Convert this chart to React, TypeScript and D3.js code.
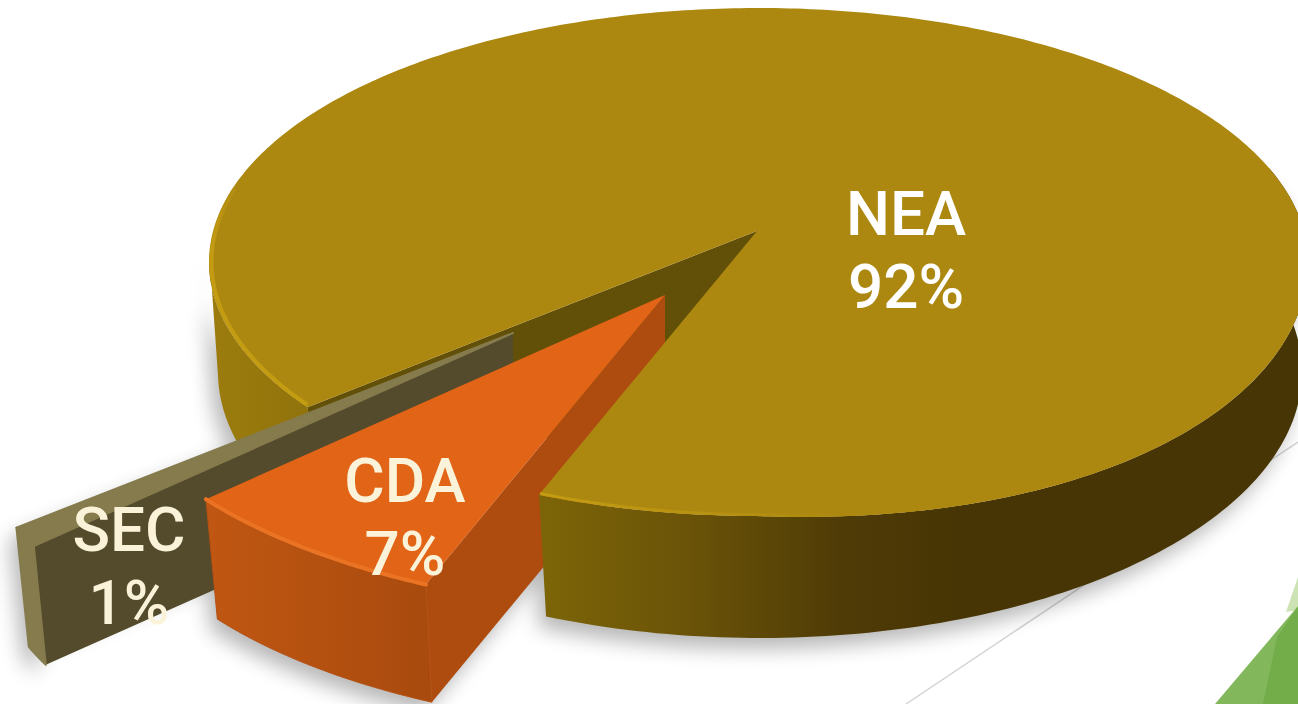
import React from "react";
import * as d3 from "d3";

const categories = ["NEA", "CDA", "SEC"];
const shares = [92, 7, 1];
const labelLines = [["NEA", "92%"], ["CDA", "7%"], ["SEC", "1%"]];

const WIDTH = 1298;
const HEIGHT = 704;
const DEG = Math.PI / 180;

type Ellipse = { cx: number; cy: number; rx: number; ry: number; warp: number };
type Pt = [number, number];

// Rims of the disc. The top rim sags a little towards the lower right of the view.
const topRim: Ellipse = { cx: 758.5, cy: 262, rx: 549.5, ry: 254, warp: 21 };
const lowRim: Ellipse = { cx: 760, cy: 372, rx: 542, ry: 266, warp: 0 };
const apexTop: Pt = [757, 231];
const apexLow: Pt = [751, 353];

// Casts a ray from the apex in pie-angle direction and returns where it meets the rim.
function rimPoint(e: Ellipse, apex: Pt, angle: number): Pt {
  const dx = Math.sin(angle) * e.rx;
  const dy = -Math.cos(angle) * e.ry;
  const ox = (apex[0] - e.cx) / e.rx;
  const oy = (apex[1] - e.cy) / e.ry;
  const ux = dx / e.rx;
  const uy = dy / e.ry;
  const a = ux * ux + uy * uy;
  const b = 2 * (ox * ux + oy * uy);
  const c = ox * ox + oy * oy - 1;
  const t = (-b + Math.sqrt(b * b - 4 * a * c)) / (2 * a);
  const x = apex[0] + t * dx;
  const y = apex[1] + t * dy;
  const u = (x - e.cx) / e.rx;
  const v = (y - e.cy) / e.ry;
  return [x, y + e.warp * Math.max(0, u) * Math.max(0, v)];
}

const line = d3.line<Pt>().curve(d3.curveLinear);
const sweep = (a: number, b: number, n = 120) =>
  d3.range(n + 1).map((i) => a + ((b - a) * i) / n);

const slices = d3
  .pie<number>()
  .sort(null)
  .startAngle(229.7 * DEG)
  .endAngle((229.7 + 360) * DEG)(shares);

const nea = slices[0];
const cda = slices[1];
const sec = slices[2];

// Disc surfaces
const neaTop = line([
  apexTop,
  ...sweep(nea.startAngle, nea.endAngle, 400).map((a) => rimPoint(topRim, apexTop, a)),
])! + "Z";

function wallPath(a: number, b: number) {
  const upper = sweep(a, b).map((t) => rimPoint(topRim, apexTop, t));
  const lower = sweep(b, a).map((t) => rimPoint(lowRim, apexLow, t));
  return line([...upper, ...lower])! + "Z";
}
const wallLeft = wallPath(nea.startAngle, 265 * DEG);
const wallFront = wallPath(nea.endAngle - 2 * Math.PI, 75 * DEG);
const cutWall = line([
  apexTop,
  rimPoint(topRim, apexTop, nea.startAngle),
  rimPoint(lowRim, apexLow, nea.startAngle),
  apexLow,
])! + "Z";

// Highlights run just inside the rim, pulled towards the apex.
function insetRim(a: number, b: number, inset: number) {
  return line(
    sweep(a, b).map((t) => {
      const p = rimPoint(topRim, apexTop, t);
      return [
        apexTop[0] + (p[0] - apexTop[0]) * (1 - inset),
        apexTop[1] + (p[1] - apexTop[1]) * (1 - inset),
      ] as Pt;
    }),
  )!;
}
const bevelLeft = insetRim(nea.startAngle + 0.4 * DEG, 280 * DEG, 0.0045);
const bevelFront = insetRim(nea.endAngle - 2 * Math.PI, 130 * DEG, 0.005);

// Pulled-out wedges: the tip moves, and the wedge grows as it nears the viewer.
function wedge(
  startAngle: number,
  endAngle: number,
  tip: Pt,
  grow: [number, number],
  depth: number,
) {
  const steps = 40;
  const arc = d3.range(steps + 1).map((i) => {
    const f = i / steps;
    const p = rimPoint(topRim, apexTop, startAngle + (endAngle - startAngle) * f);
    const g = grow[0] + (grow[1] - grow[0]) * f;
    return [tip[0] + (p[0] - apexTop[0]) * g, tip[1] + (p[1] - apexTop[1]) * g] as Pt;
  });
  const low = (p: Pt): Pt => [
    tip[0] + (p[0] - tip[0]) * 0.975,
    tip[1] + (p[1] - tip[1]) * 0.975 + depth,
  ];
  const tipLow = low(tip);
  return {
    face: line([tip, ...arc])! + "Z",
    rim: line(arc)!,
    outer: line([...arc, ...arc.map(low).reverse()])! + "Z",
    sideNear: line([tip, arc[0], low(arc[0]), tipLow])! + "Z",
    sideFar: line([tip, arc[steps], low(arc[steps]), tipLow])! + "Z",
  };
}
const cdaShape = wedge(cda.startAngle, cda.endAngle, [665, 295], [1.097, 1.075], 125);
const secShape = wedge(sec.startAngle, sec.endAngle, [513, 333], [1.122, 1.105], 124);

const labelAnchors: { x: number; y: number; fill: string }[] = [
  { x: 906, y: 235, fill: "#ffffff" },
  { x: 405, y: 502, fill: "#fbf3d9" },
  { x: 129, y: 551, fill: "#fbf3d9" },
];
const labelGap = 73;

export default function App() {
  return (
    <svg
      width={WIDTH}
      height={HEIGHT}
      viewBox={`0 0 ${WIDTH} ${HEIGHT}`}
      style={{ position: "fixed", left: 0, top: 0, background: "#fff" }}
    >
      <defs>
        <filter id="soft" x="-10%" y="-10%" width="120%" height="130%">
          <feGaussianBlur stdDeviation="10" />
        </filter>
        <linearGradient id="wallFrontFill" gradientUnits="userSpaceOnUse" x1="545" x2="960" y1="0" y2="0">
          <stop offset="0" stopColor="#7c6408" />
          <stop offset="0.35" stopColor="#6a5308" />
          <stop offset="0.72" stopColor="#4f3b06" />
          <stop offset="1" stopColor="#473505" />
        </linearGradient>
        <linearGradient id="wallLeftFill" gradientUnits="userSpaceOnUse" x1="210" x2="320" y1="0" y2="0">
          <stop offset="0" stopColor="#9c7c0d" />
          <stop offset="1" stopColor="#8f720c" />
        </linearGradient>
        <linearGradient id="cdaFront" gradientUnits="userSpaceOnUse" x1="205" x2="435" y1="0" y2="0">
          <stop offset="0" stopColor="#c05712" />
          <stop offset="1" stopColor="#a84a0e" />
        </linearGradient>
        <linearGradient id="bevelFrontStroke" gradientUnits="userSpaceOnUse" x1="540" x2="850" y1="0" y2="0">
          <stop offset="0" stopColor="#c49c12" />
          <stop offset="1" stopColor="#ac8810" />
        </linearGradient>
        <linearGradient id="bevelLeftStroke" gradientUnits="userSpaceOnUse" x1="0" x2="0" y1="170" y2="250">
          <stop offset="0" stopColor="#ac8810" />
          <stop offset="1" stopColor="#c49c12" />
        </linearGradient>
      </defs>

      {/* backdrop decoration */}
      <line x1={1298} y1={442} x2={906} y2={704} stroke="#d4d4d4" strokeWidth={1.5} />
      <polygon points="1298,577 1298,610 1286,612" fill="#cde3b4" />
      <polygon points="1215,704 1298,606 1298,704" fill="#82b75c" />
      <polygon points="1263,704 1277,637 1298,607 1298,704" fill="#72ad49" />

      {/* cast shadow */}
      <g filter="url(#soft)" fill="#000" opacity={0.28} transform="translate(-7,11)">
        <path d={wallLeft} />
        <path d={wallFront} />
        <path d={cdaShape.outer} />
        <path d={cdaShape.sideNear} />
        <path d={secShape.sideFar} />
        <path d={secShape.outer} />
      </g>

      {/* far pieces of the disc */}
      <path d={wallLeft} fill="url(#wallLeftFill)" />
      <path d={cutWall} fill="#635008" />

      {/* SEC wedge */}
      <path d={secShape.sideNear} fill="#544a2c" />
      <path d={secShape.outer} fill="#857b4d" stroke="#857b4d" strokeWidth={2} strokeLinejoin="round" />
      <path d={secShape.face} fill="#857b4d" stroke="#857b4d" strokeWidth={2} strokeLinejoin="round" />

      {/* CDA wedge */}
      <path d={cdaShape.sideNear} fill="#ae4c10" />
      <path d={cdaShape.outer} fill="url(#cdaFront)" stroke="#b55012" strokeWidth={1} strokeLinejoin="round" />
      <path d={cdaShape.face} fill="#e26416" />
      <path d={cdaShape.rim} fill="none" stroke="#ea7324" strokeWidth={4} strokeLinecap="round" />

      {/* near wall and top of the disc */}
      <path d={wallFront} fill="url(#wallFrontFill)" />
      <path d={neaTop} fill="#ac8810" />
      <path d={bevelLeft} fill="none" stroke="url(#bevelLeftStroke)" strokeWidth={4} />
      <path d={bevelFront} fill="none" stroke="url(#bevelFrontStroke)" strokeWidth={3} />

      {/* labels */}
      <g fontFamily="Roboto, 'Noto Sans', sans-serif" fontSize={62} fontWeight={500} textAnchor="middle">
        {categories.map((c, i) => (
          <text key={c} fill={labelAnchors[i].fill}>
            {labelLines[i].map((t, j) => (
              <tspan key={t} x={labelAnchors[i].x} y={labelAnchors[i].y + j * labelGap}>
                {t}
              </tspan>
            ))}
          </text>
        ))}
      </g>
    </svg>
  );
}
